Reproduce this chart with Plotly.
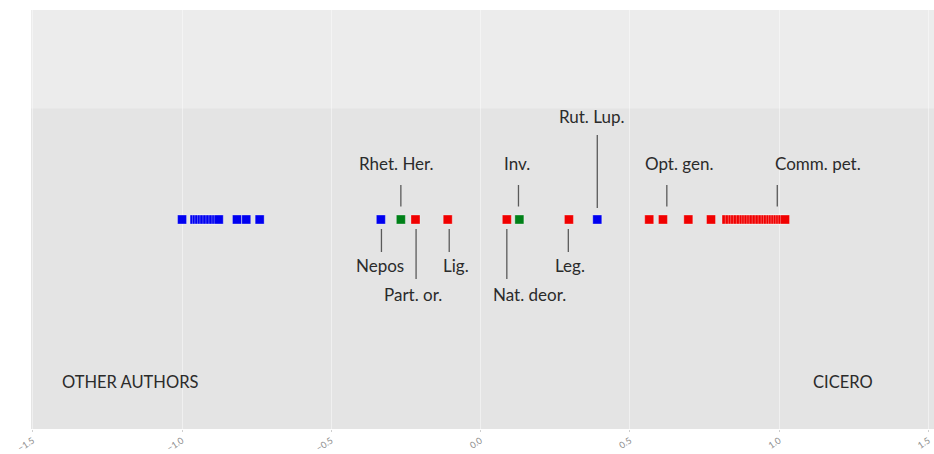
import plotly.graph_objects as go

# ---------------- data ----------------
blue_x = [-1.0, -0.958, -0.950, -0.942, -0.933, -0.925, -0.915, -0.905, -0.895,
          -0.885, -0.877, -0.816, -0.785, -0.740, -0.334, 0.391]
green_x = [-0.267, 0.130]
red_x = [-0.218, -0.110, 0.088, 0.296,
         0.565, 0.611, 0.696, 0.772,
         0.824, 0.835, 0.845, 0.853, 0.862, 0.872, 0.882, 0.890, 0.898, 0.907,
         0.915, 0.925, 0.935, 0.945, 0.955, 0.963, 0.972, 0.980, 0.988, 0.996,
         1.004, 1.012, 1.020]

label_names = ["Rhet. Her.", "Inv.", "Opt. gen.", "Comm. pet.", "Rut. Lup.",
               "Nepos", "Lig.", "Leg.", "Part. or.", "Nat. deor."]
label_x = [-0.267, 0.127, 0.624, 0.994, 0.391,
           -0.332, -0.105, 0.294, -0.216, 0.088]
label_kind = ["up", "up", "up", "up", "uplong",
              "down", "down", "down", "downlong", "downlong"]

group_names = ["OTHER AUTHORS", "CICERO"]
tick_vals = [-1.5, -1.0, -0.5, 0.0, 0.5, 1.0, 1.5]

ROW = 0.5

# ---------------- style ----------------
FONT = "Lato"
TEXT_COLOR = "#2b2b2b"
LINE_COLOR = "#5a5a5a"
# pixel offsets per leader kind: (line start, line end, text centre)
KIND = {
    "up": (13, 34.5, 56.5),
    "uplong": (11.5, 84.5, 103),
    "down": (-9.5, -32.5, -45.5),
    "downlong": (-9.5, -59.5, -74.5),
}
TEXT_XSHIFT = {"Rhet. Her.": -4, "Inv.": -1, "Opt. gen.": 13, "Comm. pet.": 41,
               "Rut. Lup.": -5.5, "Nepos": -1, "Lig.": 6.5, "Leg.": 1.5,
               "Part. or.": -3.5, "Nat. deor.": 23}

fig = go.Figure()


def add_series(xs, color):
    fig.add_trace(go.Scatter(
        x=xs, y=[ROW] * len(xs), mode="markers",
        marker=dict(symbol="square", size=9, color=color,
                    line=dict(width=0.7, color="rgba(255,255,255,0.45)")),
        hoverinfo="x", showlegend=False))


add_series(blue_x, "#0000f0")
add_series(green_x, "#008018")
add_series(red_x, "#f00000")

shapes = [dict(type="rect", xref="paper", yref="paper", x0=0, x1=1,
               y0=0.765, y1=1, fillcolor="#ececec", line_width=0, layer="below")]
annotations = []
for name, lx, kind in zip(label_names, label_x, label_kind):
    y0, y1, yt = KIND[kind]
    shapes.append(dict(type="line", xref="x", yref="y", ysizemode="pixel",
                       yanchor=ROW, x0=lx, x1=lx, y0=y0, y1=y1,
                       line=dict(color=LINE_COLOR, width=1.3)))
    annotations.append(dict(x=lx, y=ROW, xref="x", yref="y", text=name,
                            showarrow=False, yshift=yt,
                            xshift=TEXT_XSHIFT[name],
                            xanchor="center", yanchor="middle",
                            font=dict(family=FONT, size=17, color=TEXT_COLOR)))

annotations.append(dict(x=0.032, y=0.112, xref="paper", yref="paper",
                        text=group_names[0], showarrow=False, xanchor="left",
                        yanchor="middle",
                        font=dict(family=FONT, size=16.5, color=TEXT_COLOR)))
annotations.append(dict(x=0.935, y=0.112, xref="paper", yref="paper",
                        text=group_names[1], showarrow=False, xanchor="right",
                        yanchor="middle",
                        font=dict(family=FONT, size=16.5, color=TEXT_COLOR)))

fig.update_layout(
    width=934, height=454,
    margin=dict(l=31, r=0, t=10, b=25),
    paper_bgcolor="white",
    plot_bgcolor="#e4e4e4",
    shapes=shapes,
    annotations=annotations,
    xaxis=dict(range=[-1.506, 1.519], tickvals=tick_vals,
               tickformat=".1f", tickangle=-33,
               tickfont=dict(family=FONT, size=9, color="#8c8c8c"),
               showgrid=True, gridcolor="rgba(255,255,255,0.45)", gridwidth=1,
               zeroline=False, showline=False, ticks="outside", ticklen=2,
               tickcolor="#cfcfcf", automargin=False, fixedrange=True),
    yaxis=dict(range=[0, 1], visible=False, showgrid=False, zeroline=False,
               fixedrange=True),
)

fig.write_html(
    "out.html",
    config={"displayModeBar": False},
    post_script="document.body.style.margin='0';document.body.style.overflow='hidden';",
)
